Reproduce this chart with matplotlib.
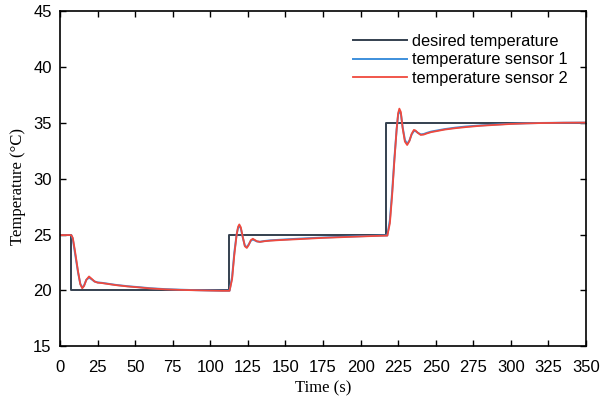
import matplotlib
matplotlib.use("Agg")
import matplotlib.pyplot as plt

# ==========================================================
# DATA
# ==========================================================

# desired temperature (step profile)
desired_t = [0, 7.2, 7.2, 112.4, 112.4, 216.9, 216.9, 350]
desired_v = [25, 25, 20, 20, 25, 25, 35, 35]

# temperature sensor 1
s1_t = [0, 7.5, 8.5, 10, 12, 13.5, 14.8, 16, 17.5, 19.3, 21, 23, 25, 28,
        32, 37, 45, 52, 60, 70, 80, 90, 100, 108, 112.8,
        114.5, 116, 117.5, 118.5, 119.3, 120.3, 121.5, 123, 124.3, 125.5,
        127, 128.3, 129.5, 131, 133, 136, 140, 146, 155, 165, 175, 185,
        195, 205, 212, 217.8,
        219.5, 221, 222.5, 224, 225, 225.8, 226.8, 228, 229.5, 231, 232.5,
        234, 235.5, 236.5, 238, 240, 242, 244, 247, 251, 256, 263, 270,
        280, 290, 300, 310, 320, 335, 350]
s1_v = [24.95, 24.95, 24.6, 23.3, 21.6, 20.6, 20.25, 20.45, 20.95, 21.15,
        21.0, 20.8, 20.72, 20.68, 20.6, 20.5, 20.38, 20.3, 20.2, 20.12,
        20.07, 20.03, 20.0, 19.98, 19.98,
        21.2, 23.4, 25.0, 25.6, 25.75, 25.55, 24.8, 24.0, 23.87, 24.1,
        24.45, 24.55, 24.48, 24.38, 24.35, 24.42, 24.48, 24.53, 24.6, 24.67,
        24.73, 24.78, 24.83, 24.87, 24.9, 24.92,
        26.3, 28.8, 31.8, 34.4, 35.7, 36.05, 35.8, 34.6, 33.45, 33.1, 33.4,
        33.95, 34.25, 34.25, 34.1, 33.95, 33.98, 34.08, 34.2, 34.3, 34.42,
        34.55, 34.65, 34.75, 34.83, 34.9, 34.94, 34.97, 34.99, 35.0]

# temperature sensor 2
s2_t = s1_t
s2_v = [24.95, 24.95, 24.7, 23.5, 21.7, 20.55, 20.2, 20.4, 20.95, 21.25,
        21.05, 20.8, 20.7, 20.66, 20.58, 20.48, 20.36, 20.28, 20.18, 20.1,
        20.05, 20.02, 19.99, 19.97, 19.97,
        21.0, 23.2, 24.95, 25.7, 25.9, 25.65, 24.85, 23.95, 23.8, 24.05,
        24.5, 24.62, 24.52, 24.4, 24.34, 24.4, 24.45, 24.5, 24.56, 24.63,
        24.7, 24.75, 24.8, 24.85, 24.88, 24.9,
        26.0, 28.5, 31.6, 34.4, 35.85, 36.25, 35.95, 34.5, 33.3, 33.0, 33.35,
        34.0, 34.35, 34.3, 34.1, 33.9, 33.93, 34.03, 34.15, 34.25, 34.38,
        34.5, 34.6, 34.72, 34.8, 34.88, 34.93, 34.96, 34.99, 35.0]

x_ticks = list(range(0, 351, 25))
y_ticks = list(range(15, 46, 5))

# ==========================================================
# PLOT
# ==========================================================

fig = plt.figure(figsize=(6.02, 4.03), dpi=100)
ax = fig.add_axes([0.0997, 0.1404, 0.8737, 0.833])

ax.plot(desired_t, desired_v, color="#34404f", linewidth=1.4,
        label="desired temperature")
ax.plot(s1_t, s1_v, color="#3d8fdc", linewidth=1.4,
        label="temperature sensor 1")
ax.plot(s2_t, s2_v, color="#f0493d", linewidth=1.3,
        label="temperature sensor 2")

ax.set_xlim(0, 350)
ax.set_ylim(15, 45)
ax.set_xticks(x_ticks)
ax.set_yticks(y_ticks)

ax.tick_params(direction="in", top=True, right=True, length=4, width=1,
               labelsize=12)
ax.tick_params(axis="x", pad=10)
ax.tick_params(axis="y", pad=6)
for lbl in ax.get_xticklabels() + ax.get_yticklabels():
    lbl.set_fontfamily("Liberation Sans")
for sp in ax.spines.values():
    sp.set_linewidth(1.2)

ax.set_xlabel("Time (s)", fontfamily="Liberation Serif", fontsize=12,
              labelpad=4)
ax.set_ylabel("Temperature (°C)", fontfamily="Liberation Serif", fontsize=12)
ax.yaxis.set_label_coords(-0.064, 0.475)

ax.legend(loc="upper right", frameon=False,
          prop={"family": "Liberation Sans", "size": 11.8},
          handlelength=3.3, handletextpad=0.3, labelspacing=0.22,
          bbox_to_anchor=(0.993, 0.975))

fig.savefig("out.png", dpi=100)
